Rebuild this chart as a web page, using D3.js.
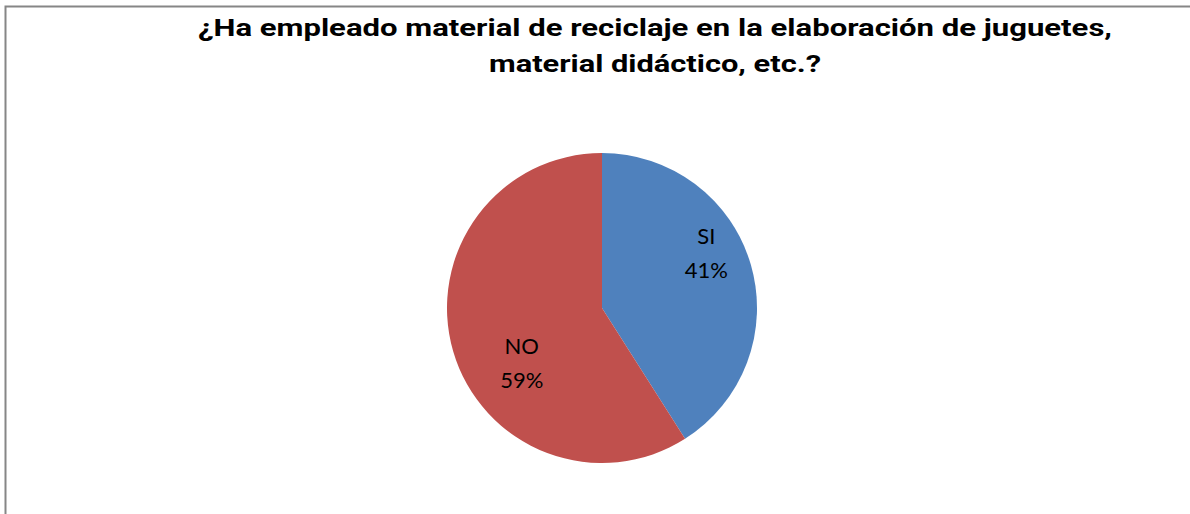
<!DOCTYPE html>
<meta charset="utf-8">
<title>Reciclaje</title>
<style>
body { margin: 0; background: #fff; }
svg { display: block; }
</style>
<svg></svg>
<script src="https://d3js.org/d3.v7.min.js"></script>
<script>
// data
var categories = ["SI", "NO"];
var values = [41, 59];
var colors = ["#4F81BD", "#C0504D"];
var titleLines = ["¿Ha empleado material de reciclaje en la elaboración de juguetes,",
                  "material didáctico, etc.?"];
var titleWidths = [914, 332];

var width = 1190, height = 514;
var svg = d3.select("svg")
    .attr("width", width)
    .attr("height", height);

// chart frame (cut off at right and bottom)
svg.append("rect")
    .attr("x", 5.5)
    .attr("y", 6.5)
    .attr("width", width + 20)
    .attr("height", height + 20)
    .style("fill", "#fff")
    .style("stroke", "#868686")
    .style("stroke-width", 2);

// title
svg.append("g").selectAll("text")
    .data(titleLines)
  .enter().append("text")
    .attr("x", 655)
    .attr("y", function(d, i) { return 36 + i * 36; })
    .attr("font-family", "Roboto, 'Liberation Sans', Arial, sans-serif")
    .attr("font-weight", "bold")
    .attr("font-size", 23)
    .attr("text-anchor", "middle")
    .attr("textLength", function(d, i) { return titleWidths[i]; })
    .attr("lengthAdjust", "spacingAndGlyphs")
    .style("fill", "#000")
    .text(function(d) { return d; });

var cx = 602, cy = 308, r = 155;
var pie = d3.pie().sort(null).value(function(d) { return d; });
var arc = d3.arc().innerRadius(0).outerRadius(r);
var labelArc = d3.arc().innerRadius(r * 0.62).outerRadius(r * 0.62);

var g = svg.append("g").attr("transform", "translate(" + cx + "," + cy + ")");
var slices = pie(values);

g.selectAll("path")
    .data(slices)
  .enter().append("path")
    .attr("d", arc)
    .style("fill", function(d, i) { return colors[i]; })
    .style("stroke", "none");

var total = d3.sum(values);
var labels = g.selectAll(".lbl")
    .data(slices)
  .enter().append("text")
    .attr("class", "lbl")
    .attr("transform", function(d) {
      var c = labelArc.centroid(d);
      var shift = c[1] < 0 ? -28 : 28;
      return "translate(" + (c[0] + 12) + "," + (c[1] + shift) + ")";
    })
    .style("text-anchor", "middle")
    .style("font-family", "Lato, 'Open Sans', sans-serif")
    .style("font-size", "22px")
    .style("fill", "#000");
labels.append("tspan")
    .attr("x", 0)
    .attr("y", -9)
    .text(function(d, i) { return categories[i]; });
labels.append("tspan")
    .attr("x", 0)
    .attr("y", 25)
    .text(function(d) { return Math.round(d.value / total * 100) + "%"; });
</script>
